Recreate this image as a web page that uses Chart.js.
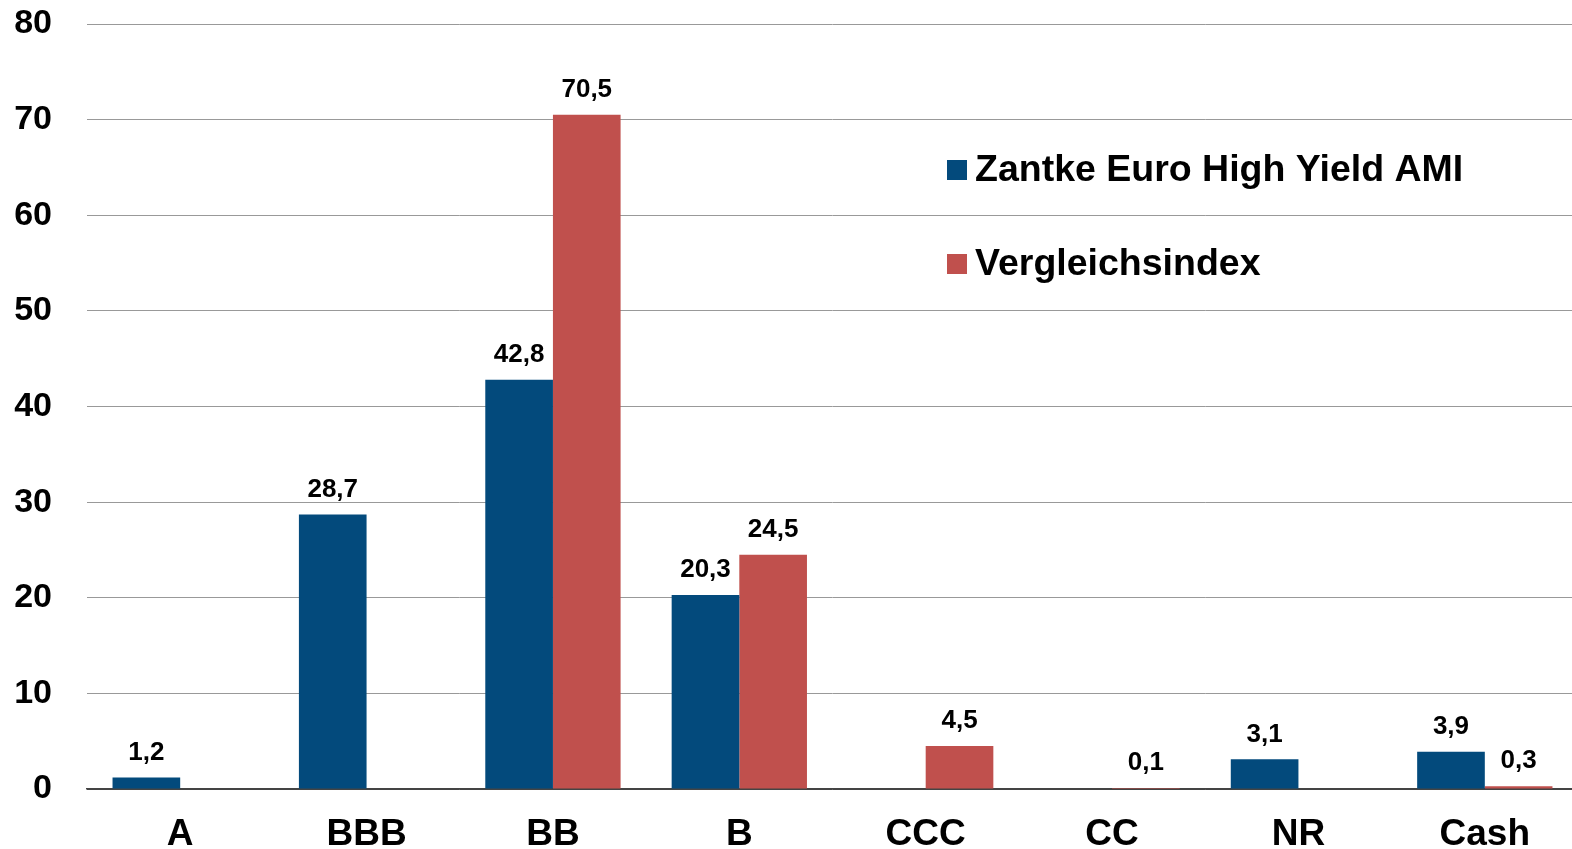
<!DOCTYPE html>
<html><head><meta charset="utf-8">
<script src="https://cdn.jsdelivr.net/npm/chart.js@4"></script>
<style>html,body{margin:0;padding:0;background:#fff;width:1572px;height:849px;overflow:hidden}#wrap{width:1578px;height:849px}</style>
</head><body><div id="wrap"><canvas id="c"></canvas></div>
<script>
const categories = ['A','BBB','BB','B','CCC','CC','NR','Cash'];
const fundValues = [1.2, 28.7, 42.8, 20.3, 0, 0, 3.1, 3.9];
const indexValues = [0, 0, 70.5, 24.5, 4.5, 0.1, 0, 0.3];
const seriesNames = ['Zantke Euro High Yield AMI', 'Vergleichsindex'];
const seriesColors = ['#034A7C', '#C0504D'];
const yTicks = [0,10,20,30,40,50,60,70,80];

const FONT = '"Liberation Sans", Arial, sans-serif';

const labelPlugin = {
  id: 'valLabels',
  afterDatasetsDraw(chart) {
    const ctx = chart.ctx;
    ctx.save();
    ctx.font = 'bold 26px ' + FONT;
    ctx.fillStyle = '#000';
    ctx.textAlign = 'center';
    ctx.textBaseline = 'middle';
    chart.data.datasets.forEach((ds, di) => {
      chart.getDatasetMeta(di).data.forEach((bar, i) => {
        const v = ds.data[i];
        if (!v) return;
        ctx.fillText(v.toFixed(1).replace('.', ','), bar.x, bar.y - 25);
      });
    });
    // legend
    ctx.font = 'bold 37.5px ' + FONT;
    ctx.textAlign = 'left';
    const ys = [170, 264];
    chart.data.datasets.forEach((ds, di) => {
      ctx.fillStyle = ds.backgroundColor;
      ctx.fillRect(947, ys[di] - 10, 20, 20);
      ctx.fillStyle = '#000';
      ctx.fillText(ds.label, 975, ys[di] + 1);
    });
    ctx.restore();
  }
};

new Chart(document.getElementById('c'), {
  type: 'bar',
  data: {
    labels: categories,
    datasets: [
      { label: seriesNames[0], data: fundValues, backgroundColor: seriesColors[0] },
      { label: seriesNames[1], data: indexValues, backgroundColor: seriesColors[1] }
    ]
  },
  options: {
    responsive: true,
    maintainAspectRatio: false,
    animation: false,
    layout: { padding: { top: 24, right: 0, left: 0, bottom: 0 } },
    plugins: { legend: { display: false }, tooltip: { enabled: false } },
    datasets: { bar: { categoryPercentage: 0.726, barPercentage: 1.0 } },
    scales: {
      x: {
        grid: { display: false, drawTicks: false },
        border: { display: true, color: '#444', width: 1.5 },
        ticks: { color: '#000', font: { family: FONT, size: 37, weight: 'bold' }, padding: 24 },
        afterFit(s) { s.height = 60; s.paddingLeft = 0; s.paddingRight = 0; }
      },
      y: {
        min: 0, max: 80,
        afterBuildTicks(s) { s.ticks = yTicks.map(v => ({ value: v })); },
        grid: { color: ctx => ctx.tick && ctx.tick.value === 0 ? '#444' : '#999', lineWidth: 1, drawTicks: false },
        border: { display: false },
        ticks: { color: '#000', font: { family: FONT, size: 34, weight: 'bold' }, padding: 35 },
        afterFit(s) { s.width = 87; s.paddingTop = 0; s.paddingBottom = 0; }
      }
    }
  },
  plugins: [labelPlugin]
});
</script></body></html>
